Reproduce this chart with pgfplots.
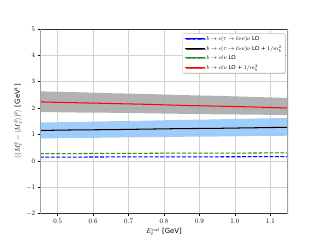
\documentclass[border=0pt]{standalone}
\usepackage{pgfplots}
\pgfplotsset{compat=1.18}
\usepackage{fontspec}
\setsansfont{DejaVu Sans}
\usetikzlibrary{shadows}
\definecolor{bandblue}{RGB}{150,200,250}
\definecolor{bandgray}{RGB}{170,170,170}
\definecolor{mgreen}{RGB}{30,140,30}
\definecolor{spinegray}{RGB}{160,160,160}
\begin{document}
\begin{tikzpicture}
\begin{axis}[
  at={(0,0)}, anchor=south west,
  scale only axis,
  width=4.96in, height=3.696in,
  xmin=0.45, xmax=1.15, ymin=-2, ymax=5,
  xtick={0.5,0.6,0.7,0.8,0.9,1.0,1.1},
  xticklabels={0.5,0.6,0.7,0.8,0.9,1.0,1.1},
  ytick={-2,-1,0,1,2,3,4,5},
  xtick pos=bottom, ytick pos=left,
  tick align=outside,
  major tick length=3.5pt,
  tick style={black, line width=0.8pt},
  axis line style={draw=none},
  grid=major,
  grid style={gray!35, line width=0.8pt},
  xlabel={$E_\ell^{cut}$ \textsf{[GeV]}},
  ylabel={$\langle (M_x^2-\langle M_x^2\rangle)^2\rangle$ \textsf{[GeV$^4$]}},
  legend cell align=left,
  legend style={at={(rel axis cs:0.988,0.976)}, anchor=north east,
    font=\sffamily\footnotesize, draw=gray!50, rounded corners=2pt,
    fill=white, row sep=2pt,
    drop shadow={shadow xshift=1.2pt, shadow yshift=-1.2pt, fill=gray, opacity=0.5}},
  legend image code/.code={\draw[#1] (0pt,0pt) -- (22pt,0pt); \path (-2pt,0pt) -- (27pt,0pt);},
]
% gray band
\addplot[fill=bandgray, draw=none, fill opacity=0.9, forget plot] coordinates {
 (0.45,2.63) (0.55,2.60) (0.65,2.56) (0.75,2.53) (0.85,2.49) (0.95,2.46) (1.05,2.42) (1.15,2.38)
 (1.15,1.73) (1.05,1.75) (0.95,1.76) (0.85,1.78) (0.75,1.80) (0.65,1.82) (0.55,1.83) (0.45,1.85)
};
% blue band
\addplot[fill=bandblue, draw=none, fill opacity=0.9, forget plot] coordinates {
 (0.45,1.45) (0.55,1.47) (0.65,1.50) (0.75,1.52) (0.85,1.55) (0.95,1.57) (1.05,1.60) (1.15,1.62)
 (1.15,0.95) (1.05,0.94) (0.95,0.92) (0.85,0.91) (0.75,0.89) (0.65,0.88) (0.55,0.86) (0.45,0.85)
};
\addplot[blue, line width=1.5pt, dash pattern=on 5.5pt off 2.4pt] coordinates {
 (0.45,0.14) (0.65,0.145) (0.85,0.15) (1.05,0.155) (1.15,0.16)};
\addlegendentry{$b\rightarrow c(\tau\rightarrow\ell\nu\nu)\nu$ LO}
\addplot[black, line width=1.5pt] coordinates {
 (0.45,1.15) (0.55,1.17) (0.65,1.18) (0.75,1.20) (0.85,1.22) (0.95,1.23) (1.05,1.25) (1.15,1.27)};
\addlegendentry{$b\rightarrow c(\tau\rightarrow\ell\nu\nu)\nu$ LO + $1/m_b^2$}
\addplot[mgreen, line width=1.5pt, dash pattern=on 5.5pt off 2.4pt] coordinates {
 (0.45,0.27) (0.65,0.28) (0.85,0.29) (1.05,0.295) (1.15,0.30)};
\addlegendentry{$b\rightarrow c\ell\nu$ LO}
\addplot[red, line width=1.5pt] coordinates {
 (0.45,2.23) (0.55,2.20) (0.65,2.17) (0.75,2.14) (0.85,2.10) (0.95,2.07) (1.05,2.04) (1.15,2.00)};
\addlegendentry{$b\rightarrow c\ell\nu$ LO + $1/m_b^2$}
\draw[black!80, line width=0.8pt] (rel axis cs:0,0) -- (rel axis cs:1,0);
\draw[black!80, line width=0.8pt] (rel axis cs:0,1) -- (rel axis cs:1,1);
\draw[spinegray, line width=3pt] (rel axis cs:0,0) -- (rel axis cs:0,1);
\draw[spinegray, line width=3pt] (rel axis cs:1,0) -- (rel axis cs:1,1);
\end{axis}
\path (-0.8in,-0.528in) rectangle (5.6in,4.272in);
\end{tikzpicture}
\end{document}
